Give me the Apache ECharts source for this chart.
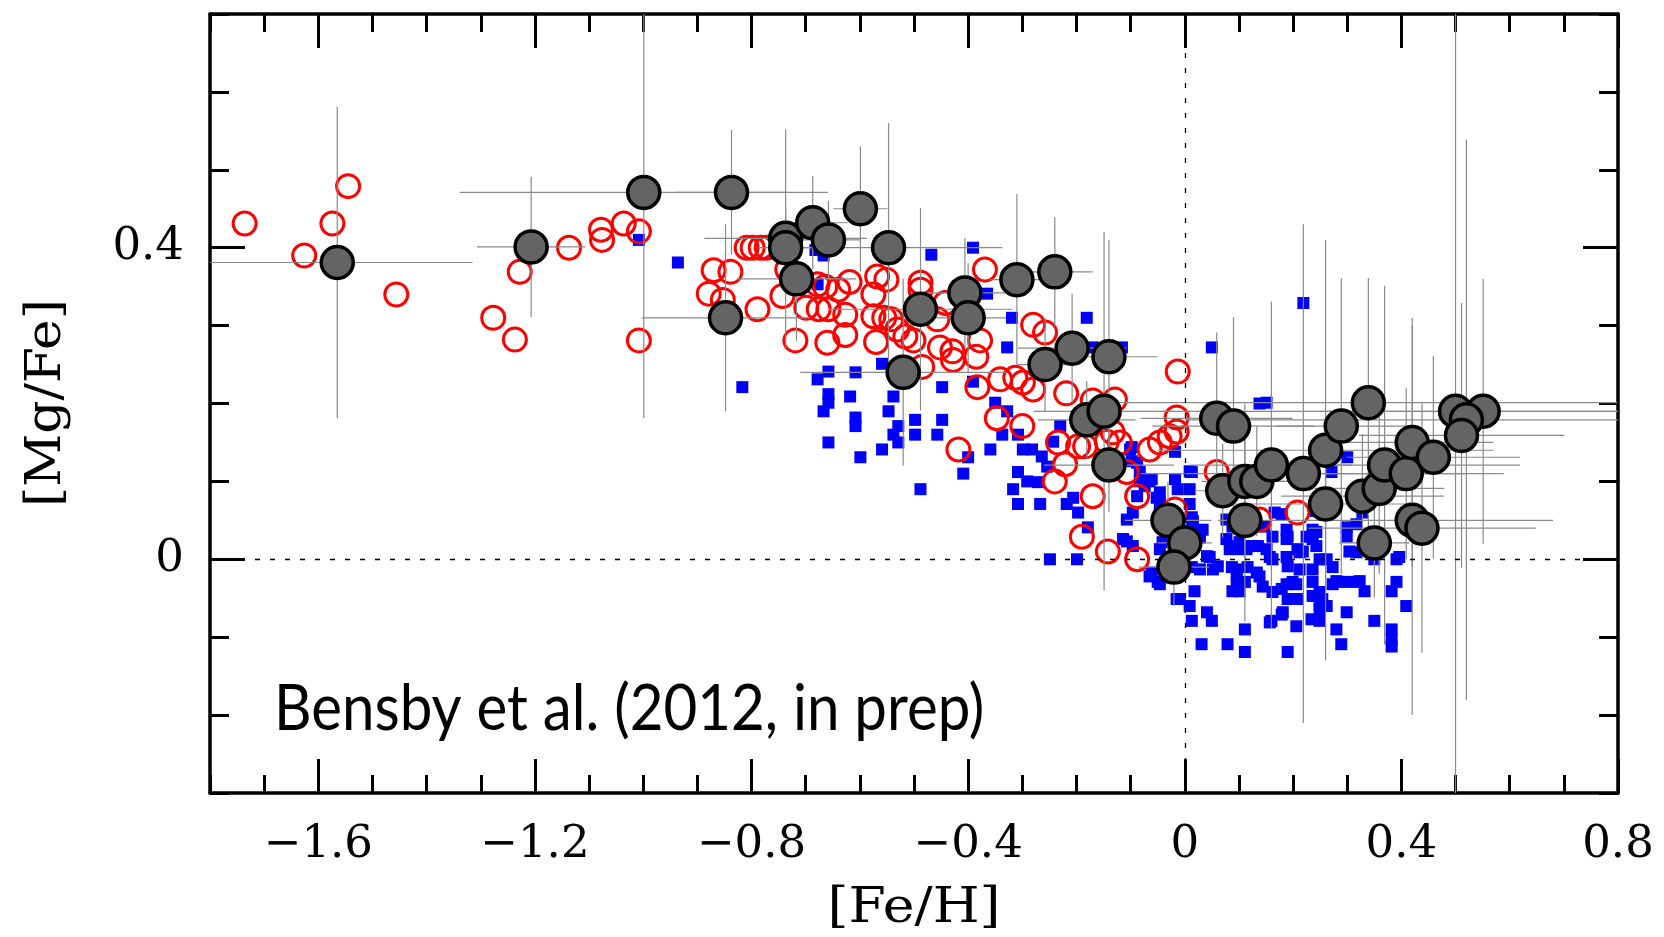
<!DOCTYPE html>
<html>
<head>
<meta charset="utf-8">
<script src="https://cdn.jsdelivr.net/npm/echarts@6/dist/echarts.min.js"></script>
<style>
  html, body { margin: 0; padding: 0; background: #fff; }
  #chart { width: 1664px; height: 937px; }
</style>
</head>
<body>
<div id="chart"></div>
<script>
// Axis ranges and labelled ticks
const feHRange = [-1.8, 0.8];
const mgFeRange = [-0.3, 0.7];
const feHLabelTicks = [-1.6, -1.2, -0.8, -0.4, 0, 0.4, 0.8];
const mgFeLabelTicks = [0, 0.4];

// Thin-disk field dwarfs (blue squares)
const thinFeH = [-1.008,-0.936,-0.817,-0.667,-0.678,-0.682,-0.468,-0.391,-0.365,-0.319,-0.181,-0.328,-0.116,0.050,0.219,-0.170,
  -0.559,-0.608,-0.658,-0.678,-0.658,-0.658,-0.618,-0.667,-0.608,-0.608,-0.658,-0.599,-0.538,-0.547,-0.529,-0.538,-0.529,-0.559,
  -0.498,-0.498,-0.457,-0.448,-0.448,-0.488,-0.409,-0.400,-0.359,-0.391,-0.350,-0.328,-0.308,-0.337,-0.308,-0.291,-0.271,-0.254,
  -0.317,-0.308,-0.267,-0.218,-0.206,-0.197,-0.179,-0.249,-0.199,-0.243,-0.299,-0.282,-0.264,-0.230,-0.098,-0.088,-0.074,-0.061,
  -0.052,-0.107,-0.107,-0.096,-0.065,-0.046,-0.015,-0.098,-0.088,-0.077,0.009,-0.114,-0.096,-0.083,-0.065,-0.083,-0.101,-0.018,
  -0.013,0.009,0.013,-0.018,-0.046,-0.046,0.009,0.015,-0.041,-0.046,0.013,0.013,0.033,0.028,0.077,0.088,0.077,0.088,0.083,0.101,
  0.114,0.101,0.151,0.124,0.135,0.147,0.162,0.190,0.166,0.188,0.208,0.225,0.236,0.240,0.218,0.249,0.262,0.299,0.299,0.304,0.328,
  0.350,0.391,0.179,0.271,0.300,0.151,0.138,0.188,0.236,0.243,0.243,0.317,0.317,0.157,0.188,0.212,0.041,0.046,0.052,0.061,0.028,
  0.096,0.096,0.133,0.138,0.144,0.199,0.212,0.236,0.273,0.280,0.323,0.332,0.396,0.382,0.391,0.382,0.382,0.382,0.409,0.350,0.299,
  0.289,0.280,0.249,0.236,0.254,0.262,0.249,0.190,0.208,0.162,0.179,0.190,0.179,0.160,0.111,0.111,0.079,0.031,0.088,0.101,0.018,
  0.009,0.013,0.041,0.050,-0.009,-0.061,-0.050,0.236,0.188,0.206,0.190,0.181,0.206,0.234,0.157,0.162,0.116,0.111,0.087,0.096,
  0.013,0.300,0.319,0.249,0.249,0.273,0.286];
const thinMgFe = [0.410,0.381,0.221,0.390,0.353,0.397,0.391,0.400,0.341,0.310,0.310,0.272,0.272,0.272,0.329,0.272,
  0.251,0.240,0.241,0.231,0.212,0.201,0.209,0.190,0.182,0.171,0.150,0.131,0.209,0.190,0.171,0.160,0.150,0.141,
  0.179,0.160,0.160,0.179,0.221,0.090,0.110,0.131,0.141,0.228,0.201,0.190,0.160,0.160,0.112,0.100,0.099,0.119,
  0.090,0.071,0.071,0.071,0.079,0.060,0.041,0.000,0.000,0.151,0.141,0.141,0.132,0.171,0.126,0.081,0.094,0.103,
  0.079,0.051,0.023,0.017,-0.022,-0.032,-0.051,0.144,0.124,0.103,0.113,0.026,0.060,0.100,0.100,0.112,0.141,0.103,
  0.090,0.090,0.112,0.138,0.086,0.071,0.071,0.049,0.022,0.013,0.054,0.038,0.038,0.028,0.051,0.042,0.026,0.017,0.013,0.013,
  0.013,0.022,0.013,0.017,0.017,0.042,0.029,0.029,0.060,0.038,0.013,0.029,0.038,0.062,0.010,0.000,0.000,0.041,0.029,0.010,0.060,
  0.000,0.000,0.058,0.112,0.131,0.201,0.200,0.026,0.026,0.035,0.017,0.045,0.009,0.003,0.003,0.009,0.004,0.003,-0.013,-0.009,-0.013,
  -0.013,-0.029,-0.017,-0.022,-0.035,-0.029,-0.013,-0.013,-0.032,-0.028,-0.028,-0.041,0.003,-0.041,-0.029,-0.090,-0.103,-0.112,-0.060,-0.079,-0.068,
  -0.109,-0.090,-0.079,-0.047,-0.051,-0.060,-0.064,-0.051,-0.051,-0.042,-0.038,-0.119,-0.071,-0.079,-0.090,-0.119,-0.109,-0.109,-0.041,-0.041,-0.041,
  -0.060,-0.079,-0.068,-0.079,-0.051,-0.017,-0.029,-0.029,-0.032,-0.032,-0.009,-0.068,-0.086,-0.077,-0.081,0.000,-0.010,-0.029,-0.010,-0.022,
  -0.010,-0.029,-0.029,-0.058,-0.042,-0.010,-0.029];

// Thick-disk field dwarfs (red open circles)
const thickFeH = [-1.736,-1.545,-1.574,-1.626,-1.456,-1.228,-1.277,-1.237,-1.137,-1.078,-1.076,-1.036,-1.008,-1.008,
  -0.879,-0.870,-0.839,-0.853,-0.798,-0.783,-0.772,-0.809,-0.789,-0.734,-0.743,-0.719,-0.678,-0.664,-0.640,-0.619,
  -0.676,-0.699,-0.658,-0.627,-0.660,-0.627,-0.568,-0.551,-0.575,-0.575,-0.555,-0.542,-0.570,-0.531,-0.516,-0.501,
  -0.488,-0.488,-0.442,-0.457,-0.485,-0.452,-0.429,-0.428,-0.378,-0.385,-0.369,-0.383,-0.418,-0.347,-0.341,-0.313,
  -0.299,-0.280,-0.300,-0.280,-0.258,-0.219,-0.170,-0.129,-0.234,-0.197,-0.184,-0.221,-0.240,-0.170,-0.190,-0.142,
  -0.088,-0.120,-0.144,-0.133,-0.065,-0.046,-0.028,-0.015,-0.088,-0.107,-0.013,-0.015,-0.018,0.059,0.138,0.208];
const thickMgFe = [0.431,0.479,0.431,0.390,0.340,0.369,0.310,0.282,0.400,0.423,0.410,0.431,0.421,0.281,
  0.341,0.371,0.369,0.333,0.400,0.400,0.400,0.400,0.321,0.372,0.338,0.281,0.353,0.350,0.346,0.356,
  0.321,0.323,0.321,0.314,0.278,0.288,0.363,0.359,0.340,0.312,0.310,0.308,0.279,0.295,0.286,0.281,
  0.355,0.346,0.329,0.308,0.247,0.272,0.267,0.256,0.281,0.260,0.372,0.221,0.141,0.181,0.231,0.233,
  0.227,0.218,0.171,0.301,0.291,0.213,0.204,0.205,0.150,0.145,0.145,0.122,0.100,0.081,0.029,0.010,
  0.000,0.150,0.151,0.163,0.141,0.150,0.158,0.164,0.081,0.112,0.241,0.182,0.064,0.112,0.051,0.060];

// Microlensed bulge dwarfs with 1-sigma uncertainties (grey filled circles)
const bulgeFeH = [-1.565,-1.207,-0.999,-0.837,-0.737,-0.737,-0.687,-0.658,-0.599,-0.547,-0.848,-0.717,-0.488,-0.406,
  -0.400,-0.520,-0.310,-0.240,-0.258,-0.208,-0.140,-0.181,-0.149,-0.140,-0.031,0.000,-0.020,0.059,0.090,0.070,0.111,
  0.133,0.160,0.111,0.219,0.260,0.289,0.339,0.260,0.328,0.359,0.369,0.409,0.420,0.459,0.420,0.438,0.350,0.500,0.551,
  0.520,0.511];
const bulgeMgFe = [0.381,0.401,0.471,0.471,0.412,0.400,0.432,0.410,0.450,0.400,0.310,0.360,0.321,0.342,
  0.310,0.240,0.359,0.369,0.250,0.271,0.260,0.179,0.190,0.121,0.050,0.021,-0.010,0.181,0.171,0.088,0.100,
  0.100,0.121,0.050,0.110,0.140,0.171,0.201,0.071,0.081,0.091,0.121,0.110,0.150,0.131,0.050,0.040,0.021,0.190,0.190,
  0.179,0.159];
const bulgeErrFeH = [0.25,0.10,0.34,0.10,0.15,0.05,0.065,0.06,0.05,0.21,0.155,0.11,0.17,0.075,
  0.07,0.19,0.05,0.07,0.05,0.10,0.09,0.09,0.13,0.12,0.08,0.05,0.065,0.14,0.15,0.05,0.08,
  0.08,0.15,0.05,0.30,0.31,0.12,0.46,0.17,0.15,0.12,0.25,0.18,0.15,0.16,0.26,0.21,0.065,0.54,0.30,
  0.52,0.19];
const bulgeErrMgFe = [0.20,0.09,0.29,0.08,0.14,0.05,0.06,0.05,0.08,0.16,0.12,0.08,0.13,0.07,
  0.07,0.12,0.11,0.07,0.06,0.07,0.15,0.05,0.23,0.06,0.05,0.04,0.05,0.11,0.14,0.06,0.10,
  0.07,0.21,0.13,0.32,0.27,0.19,0.16,0.10,0.08,0.11,0.23,0.11,0.16,0.13,0.25,0.16,0.07,0.55,0.17,
  0.36,0.17];

const zip = (xs, ys) => xs.map((x, i) => [x, ys[i]]);
const signed = v => v === 0 ? '0' : (v < 0 ? '\u2212' : '') + Math.abs(v).toFixed(1);

const tickFont = { fontFamily: 'DejaVu Serif', fontSize: 45, color: '#000' };

function xAxisDef(position, major, labels) {
  return {
    type: 'value', position, min: feHRange[0], max: feHRange[1], interval: 0.1,
    axisLine: { show: major, onZero: false, lineStyle: { color: '#000', width: 3.5 } },
    axisTick: Object.assign({ show: true, inside: true, length: major ? 34 : 18,
      lineStyle: { color: '#000', width: 3 } }, major ? { customValues: feHLabelTicks } : {}),
    axisLabel: labels ? Object.assign({ show: true, customValues: feHLabelTicks, margin: 30,
      showMinLabel: true, showMaxLabel: true, formatter: signed }, tickFont) : { show: false },
    splitLine: { show: false }
  };
}
function yAxisDef(position, major, labels) {
  return {
    type: 'value', position, min: mgFeRange[0], max: mgFeRange[1], interval: 0.1,
    axisLine: { show: major, onZero: false, lineStyle: { color: '#000', width: 3.5 } },
    axisTick: Object.assign({ show: true, inside: true, length: major ? 35 : 19,
      lineStyle: { color: '#000', width: 3 } }, major ? { customValues: mgFeLabelTicks } : {}),
    axisLabel: labels ? Object.assign({ show: true, customValues: mgFeLabelTicks, margin: 26,
      formatter: signed }, tickFont) : { show: false },
    splitLine: { show: false }
  };
}

// Cross-shaped error bars, clipped to the plotting frame
function renderErrorBar(params, api) {
  const x = api.value(0), y = api.value(1), ex = api.value(2), ey = api.value(3);
  const cs = params.coordSys;
  const clampX = v => Math.max(cs.x, Math.min(cs.x + cs.width, v));
  const clampY = v => Math.max(cs.y, Math.min(cs.y + cs.height, v));
  const l = api.coord([x - ex, y]), r = api.coord([x + ex, y]);
  const b = api.coord([x, y - ey]), t = api.coord([x, y + ey]);
  const style = { stroke: '#8a8a8a', lineWidth: 1.2 };
  return {
    type: 'group',
    children: [
      { type: 'line', shape: { x1: clampX(l[0]), y1: l[1], x2: clampX(r[0]), y2: r[1] }, style },
      { type: 'line', shape: { x1: b[0], y1: clampY(b[1]), x2: t[0], y2: clampY(t[1]) }, style }
    ]
  };
}

const titleFont = { fontFamily: 'DejaVu Serif', fontSize: 48, fill: '#000', align: 'center', verticalAlign: 'middle' };

const chart = echarts.init(document.getElementById('chart'), null, { renderer: 'canvas' });
chart.setOption({
  animation: false,
  backgroundColor: '#fff',
  grid: { left: 210, right: 46, top: 14, bottom: 144, containLabel: false },
  xAxis: [
    xAxisDef('bottom', true, true),
    xAxisDef('bottom', false, false),
    xAxisDef('top', true, false),
    xAxisDef('top', false, false)
  ],
  yAxis: [
    yAxisDef('left', true, true),
    yAxisDef('left', false, false),
    yAxisDef('right', true, false),
    yAxisDef('right', false, false)
  ],
  graphic: [
    { type: 'text', x: 274, y: 709, scaleX: 0.91, silent: true,
      style: { text: 'Bensby et al. (2012, in prep)', fontFamily: 'Lato', fontSize: 64,
        fill: '#000', align: 'left', verticalAlign: 'middle' } },
    { type: 'text', x: 914, y: 910, scaleX: 1.12, silent: true,
      style: Object.assign({ text: '[Fe/H]' }, titleFont) },
    { type: 'text', x: 48, y: 403, rotation: Math.PI / 2, scaleX: 1.08, silent: true,
      style: Object.assign({ text: '[Mg/Fe]' }, titleFont) }
  ],
  series: [
    {
      name: 'reference', type: 'scatter', data: [], silent: true, z: 1,
      markLine: {
        silent: true, symbol: ['none', 'none'], label: { show: false },
        lineStyle: { color: '#000', type: [5, 10], width: 1.3 },
        data: [{ yAxis: 0 }, { xAxis: 0 }]
      }
    },
    {
      name: 'thin disk', type: 'scatter', silent: true, z: 2,
      symbol: 'rect', symbolSize: 12,
      itemStyle: { color: '#0000ff', opacity: 1 },
      data: zip(thinFeH, thinMgFe)
    },
    {
      name: 'thick disk', type: 'scatter', silent: true, z: 3,
      symbol: 'circle', symbolSize: 23,
      itemStyle: { color: 'rgba(255,255,255,0)', borderColor: '#ff0000', borderWidth: 3, opacity: 1 },
      data: zip(thickFeH, thickMgFe)
    },
    {
      name: 'bulge errors', type: 'custom', silent: true, z: 4,
      renderItem: renderErrorBar,
      encode: { x: 0, y: 1 },
      data: bulgeFeH.map((x, i) => [x, bulgeMgFe[i], bulgeErrFeH[i], bulgeErrMgFe[i]])
    },
    {
      name: 'bulge', type: 'scatter', silent: true, z: 5,
      symbol: 'circle', symbolSize: 32,
      itemStyle: { color: '#646464', borderColor: '#000', borderWidth: 3.5, opacity: 1 },
      data: zip(bulgeFeH, bulgeMgFe)
    }
  ]
});
</script>
</body>
</html>
